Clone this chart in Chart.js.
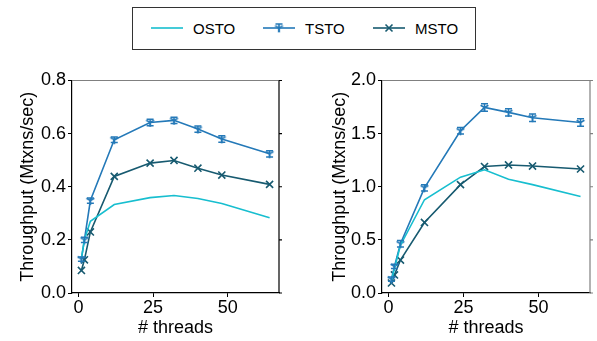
<!DOCTYPE html>
<html>
<head>
<meta charset="utf-8">
<script src="https://cdn.jsdelivr.net/npm/chart.js@4.4.0/dist/chart.umd.min.js"></script>
<style>
    body { margin: 0; background: #fff; font-family: "Liberation Sans", Arial, sans-serif; }
    #wrap { position: relative; width: 597px; height: 341px; overflow: hidden; }
    #leftBox { position: absolute; left: 0; top: 60px; width: 300px; height: 281px; }
    #rightBox { position: absolute; left: 300px; top: 60px; width: 297px; height: 281px; }
    #legend {
        position: absolute; left: 132px; top: 7px; width: 344px; height: 43px;
        border: 1px solid #333; box-sizing: border-box;
    }
    .item { position: absolute; top: 0; height: 41px; font-size: 15px; line-height: 41px; color: #000; }
    .item canvas { position: absolute; top: 12px; left: 0; }
    .item span { position: absolute; left: 43px; top: 0; white-space: nowrap; }
</style>
</head>
<body>
<div id="wrap">
    <div id="legend">
        <div class="item" style="left:17px"><canvas id="lg0" width="34" height="16"></canvas><span>OSTO</span></div>
        <div class="item" style="left:129px"><canvas id="lg1" width="34" height="16"></canvas><span>TSTO</span></div>
        <div class="item" style="left:239px"><canvas id="lg2" width="34" height="16"></canvas><span>MSTO</span></div>
    </div>
    <div id="leftBox"><canvas id="leftChart"></canvas></div>
    <div id="rightBox"><canvas id="rightChart"></canvas></div>
</div>
<script>
const threads = [1, 2, 4, 12, 24, 32, 40, 48, 64];

// left panel
const ostoLeft = [0.13, 0.20, 0.27, 0.333, 0.359, 0.367, 0.356, 0.337, 0.283];
const tstoLeft = [0.128, 0.20, 0.348, 0.577, 0.642, 0.650, 0.617, 0.580, 0.524];
const tstoErrLeft = [0.008, 0.01, 0.01, 0.01, 0.012, 0.012, 0.012, 0.012, 0.012];
const mstoLeft = [0.085, 0.125, 0.23, 0.439, 0.489, 0.499, 0.47, 0.444, 0.409];

// right panel
const ostoRight = [0.12, 0.23, 0.45, 0.878, 1.09, 1.16, 1.07, 1.02, 0.909];
const tstoRight = [0.13, 0.25, 0.464, 0.99, 1.527, 1.746, 1.70, 1.65, 1.605];
const tstoErrRight = [0.02, 0.02, 0.03, 0.03, 0.03, 0.035, 0.035, 0.035, 0.035];
const mstoRight = [0.094, 0.17, 0.31, 0.664, 1.02, 1.19, 1.205, 1.195, 1.167];

const xTicks = [0, 25, 50];
const leftYTicks = [0, 0.2, 0.4, 0.6, 0.8];
const rightYTicks = [0, 0.5, 1.0, 1.5, 2.0];

const seriesNames = ['OSTO', 'TSTO', 'MSTO'];
const colors = ['#17becf', '#2479b8', '#175a70'];
const FONT = '"Liberation Sans", Arial, sans-serif';

function triDown(color, r) {
    const c = document.createElement('canvas');
    const s = Math.ceil(r * 2 + 4);
    c.width = s; c.height = s;
    const g = c.getContext('2d');
    const m = s / 2;
    g.strokeStyle = color;
    g.lineWidth = 1.6;
    g.beginPath();
    g.moveTo(m, m); g.lineTo(m, m + r);
    g.moveTo(m, m); g.lineTo(m - r * 0.866, m - r * 0.5);
    g.moveTo(m, m); g.lineTo(m + r * 0.866, m - r * 0.5);
    g.stroke();
    return c;
}
const triMarker = triDown(colors[1], 4.5);

// error bars for datasets carrying an errors array
const errorBars = {
    id: 'errorBars',
    afterDatasetsDraw(chart) {
        const ctx = chart.ctx;
        const yScale = chart.scales.y;
        chart.data.datasets.forEach((ds, i) => {
            if (!ds.errors) return;
            const meta = chart.getDatasetMeta(i);
            ctx.save();
            ctx.strokeStyle = ds.borderColor;
            ctx.lineWidth = 1.5;
            meta.data.forEach((pt, j) => {
                const top = yScale.getPixelForValue(ds.data[j].y + ds.errors[j]);
                const bot = yScale.getPixelForValue(ds.data[j].y - ds.errors[j]);
                ctx.beginPath();
                ctx.moveTo(pt.x, top); ctx.lineTo(pt.x, bot);
                ctx.moveTo(pt.x - 3.5, top); ctx.lineTo(pt.x + 3.5, top);
                ctx.moveTo(pt.x - 3.5, bot); ctx.lineTo(pt.x + 3.5, bot);
                ctx.stroke();
            });
            ctx.restore();
        });
    }
};

// top and right spines with the right-hand ticks
const frame = {
    id: 'frame',
    afterDraw(chart, args, opts) {
        const a = chart.chartArea;
        const ctx = chart.ctx;
        const yScale = chart.scales.y;
        ctx.save();
        ctx.lineWidth = 1.2;
        ctx.strokeStyle = '#808080';
        ctx.beginPath();
        ctx.moveTo(a.left, a.top); ctx.lineTo(a.right, a.top);
        ctx.stroke();
        ctx.strokeStyle = opts.rightColor;
        ctx.beginPath();
        ctx.moveTo(a.right, a.top); ctx.lineTo(a.right, a.bottom);
        opts.ticks.forEach(v => {
            const y = yScale.getPixelForValue(v);
            ctx.moveTo(a.right, y); ctx.lineTo(a.right + 3, y);
        });
        ctx.stroke();
        ctx.restore();
    }
};

function makeChart(id, osto, tsto, tstoErr, msto, yMax, yTicks, yWidth, titlePad, padRight, rightColor) {
    const ctx = document.getElementById(id).getContext('2d');
    return new Chart(ctx, {
        type: 'line',
        data: {
            datasets: [{
                label: seriesNames[0],
                data: osto.map((v, i) => ({ x: threads[i], y: v })),
                borderColor: colors[0],
                borderWidth: 1.6,
                pointRadius: 0,
                tension: 0
            }, {
                label: seriesNames[1],
                data: tsto.map((v, i) => ({ x: threads[i], y: v })),
                errors: tstoErr,
                borderColor: colors[1],
                borderWidth: 1.6,
                pointStyle: triMarker,
                pointRadius: 4.5,
                tension: 0
            }, {
                label: seriesNames[2],
                data: msto.map((v, i) => ({ x: threads[i], y: v })),
                borderColor: colors[2],
                backgroundColor: colors[2],
                borderWidth: 1.6,
                pointStyle: 'crossRot',
                pointRadius: 5,
                pointBorderWidth: 1.6,
                tension: 0
            }]
        },
        options: {
            responsive: true,
            maintainAspectRatio: false,
            animation: false,
            layout: { padding: { top: 20.5, right: padRight, left: 0, bottom: 0 } },
            plugins: {
                legend: { display: false },
                tooltip: { enabled: false },
                frame: { rightColor: rightColor, ticks: yTicks }
            },
            scales: {
                x: {
                    type: 'linear',
                    min: -2.15,
                    max: 67.15,
                    afterBuildTicks: s => { s.ticks = xTicks.map(v => ({ value: v })); },
                    afterFit: s => { s.height = 48; },
                    grid: { drawOnChartArea: false, drawTicks: true, tickLength: 4, color: '#000' },
                    border: { color: '#000', width: 1.2 },
                    ticks: { color: '#000', font: { family: FONT, size: 18 }, padding: 0, maxRotation: 0 },
                    title: { display: true, text: '# threads', color: '#000', font: { family: FONT, size: 18 }, padding: { top: 0, bottom: 2 } }
                },
                y: {
                    min: 0,
                    max: yMax,
                    afterBuildTicks: s => { s.ticks = yTicks.map(v => ({ value: v })); },
                    afterFit: s => { s.width = yWidth; },
                    grid: { drawOnChartArea: false, drawTicks: true, tickLength: 4, color: '#000' },
                    border: { color: '#000', width: 1.2 },
                    ticks: { color: '#000', font: { family: FONT, size: 18 }, padding: 2, callback: v => v.toFixed(1) },
                    title: { display: true, text: 'Throughput (Mtxns/sec)', color: '#000', font: { family: FONT, size: 18 }, padding: { top: titlePad, bottom: 0 } }
                }
            }
        },
        plugins: [errorBars, frame]
    });
}

makeChart('leftChart', ostoLeft, tstoLeft, tstoErrLeft, mstoLeft, 0.8, leftYTicks, 72, 17, 21, '#000');
makeChart('rightChart', ostoRight, tstoRight, tstoErrRight, mstoRight, 2.0, rightYTicks, 82, 29, 7, '#808080');

// legend samples
function drawSample(id, i) {
    const g = document.getElementById(id).getContext('2d');
    g.strokeStyle = colors[i];
    g.lineWidth = 1.6;
    g.beginPath();
    g.moveTo(1, 8); g.lineTo(33, 8);
    g.stroke();
    if (i === 1) {
        g.drawImage(triMarker, 17 - triMarker.width / 2, 8 - triMarker.height / 2);
        g.beginPath();
        g.moveTo(13.5, 4); g.lineTo(20.5, 4);
        g.moveTo(17, 4); g.lineTo(17, 12);
        g.stroke();
    } else if (i === 2) {
        g.beginPath();
        g.moveTo(13.5, 4.5); g.lineTo(20.5, 11.5);
        g.moveTo(20.5, 4.5); g.lineTo(13.5, 11.5);
        g.stroke();
    }
}
drawSample('lg0', 0);
drawSample('lg1', 1);
drawSample('lg2', 2);
</script>
</body>
</html>
